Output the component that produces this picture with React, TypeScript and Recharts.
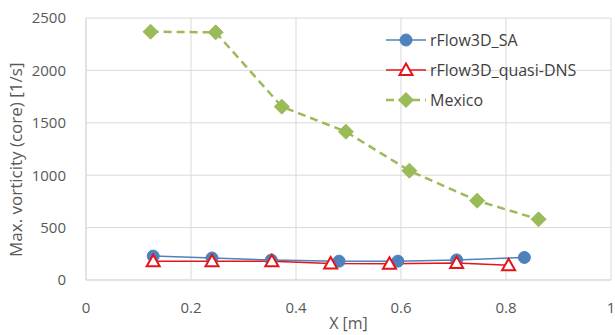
import React from "react";
import { LineChart, Line, XAxis, YAxis, CartesianGrid } from "recharts";

const saX = [0.128, 0.24, 0.353, 0.482, 0.594, 0.706, 0.835];
const saY = [228, 210, 190, 180, 180, 192, 215];
const dnsX = [0.128, 0.24, 0.354, 0.466, 0.578, 0.706, 0.805];
const dnsY = [180, 178, 178, 158, 155, 163, 140];
const mexX = [0.123, 0.247, 0.373, 0.495, 0.616, 0.745, 0.862];
const mexY = [2369, 2363, 1654, 1415, 1043, 757, 579];
const xTicks = [0, 0.2, 0.4, 0.6, 0.8, 1];
const yTicks = [0, 500, 1000, 1500, 2000, 2500];
const seriesNames = ["rFlow3D_SA", "rFlow3D_quasi-DNS", "Mexico"];

const BLUE = "#4F81BD";
const RED = "#E3151B";
const GREEN = "#9BBB59";
const FONT = "'Open Sans', sans-serif";
const TXT = "#595959";

const toRows = (xs: number[], ys: number[]) => xs.map((x, i) => ({ x, y: ys[i] }));
const saData = toRows(saX, saY);
const dnsData = toRows(dnsX, dnsY);
const mexData = toRows(mexX, mexY);

const circlePath = (cx: number, cy: number) => <circle cx={cx} cy={cy} r={6} fill={BLUE} stroke={BLUE} strokeWidth={1} />;
const triPath = (cx: number, cy: number) => (
  <path d={`M${cx},${cy - 6.5} L${cx + 6.5},${cy + 5} L${cx - 6.5},${cy + 5} Z`} fill="#fff" stroke={RED} strokeWidth={2} />
);
const diaPath = (cx: number, cy: number) => (
  <path d={`M${cx},${cy - 7.5} L${cx + 7.5},${cy} L${cx},${cy + 7.5} L${cx - 7.5},${cy} Z`} fill={GREEN} stroke={GREEN} strokeWidth={1} />
);

const CircleDot = (p: any) => <g key={p.key}>{circlePath(p.cx, p.cy)}</g>;
const TriDot = (p: any) => <g key={p.key}>{triPath(p.cx, p.cy)}</g>;
const DiaDot = (p: any) => <g key={p.key}>{diaPath(p.cx, p.cy)}</g>;

const LegendBox = () => {
  const items = [
    { color: BLUE, dash: undefined, w: 1.5, m: circlePath },
    { color: RED, dash: undefined, w: 1.5, m: triPath },
    { color: GREEN, dash: "8 5", w: 2.5, m: diaPath },
  ];
  return (
    <div style={{ position: "absolute", left: 385, top: 25, fontFamily: FONT, fontSize: 16, color: "#404040", lineHeight: "30px" }}>
      {items.map((it, i) => (
        <div key={i} style={{ display: "flex", alignItems: "center", height: 30 }}>
          <svg width={42} height={20} style={{ marginRight: 3 }}>
            <line x1={1} y1={10} x2={41} y2={10} stroke={it.color} strokeWidth={it.w} strokeDasharray={it.dash} />
            {it.m(21, 10)}
          </svg>
          <span>{seriesNames[i]}</span>
        </div>
      ))}
    </div>
  );
};

export default function App() {
  return (
    <div style={{ position: "absolute", left: 0, top: 0, width: 615, height: 335, background: "#fff" }}>
      <LineChart width={615} height={335} margin={{ top: 18, right: 4, bottom: 25, left: 30 }}>
        <CartesianGrid stroke="#D9D9D9" strokeWidth={1} horizontalValues={yTicks} verticalValues={xTicks} />
        <XAxis
          type="number"
          dataKey="x"
          domain={[0, 1]}
          ticks={xTicks}
          axisLine={{ stroke: "#D9D9D9" }}
          tickLine={false}
          tick={{ fill: TXT, fontSize: 15, fontFamily: FONT }}
          tickMargin={16}
          height={30}
          label={{ value: "X [m]", position: "insideBottom", offset: -19, fill: TXT, fontSize: 16, fontFamily: FONT }}
        />
        <YAxis
          type="number"
          domain={[0, 2500]}
          ticks={yTicks}
          axisLine={{ stroke: "#D9D9D9" }}
          tickLine={false}
          tick={{ fill: TXT, fontSize: 15, fontFamily: FONT }}
          tickMargin={14}
          width={56}
          label={{ value: "Max. vorticity (core) [1/s]", angle: -90, position: "insideLeft", offset: -14, dy: 108, fill: TXT, fontSize: 17, fontFamily: FONT }}
        />
        <Line data={saData} dataKey="y" name={seriesNames[0]} stroke={BLUE} strokeWidth={1.5} dot={CircleDot} isAnimationActive={false} />
        <Line data={dnsData} dataKey="y" name={seriesNames[1]} stroke={RED} strokeWidth={1.5} dot={TriDot} isAnimationActive={false} />
        <Line data={mexData} dataKey="y" name={seriesNames[2]} stroke={GREEN} strokeWidth={2.5} strokeDasharray="8 5" dot={DiaDot} isAnimationActive={false} />
      </LineChart>
      <LegendBox />
    </div>
  );
}
